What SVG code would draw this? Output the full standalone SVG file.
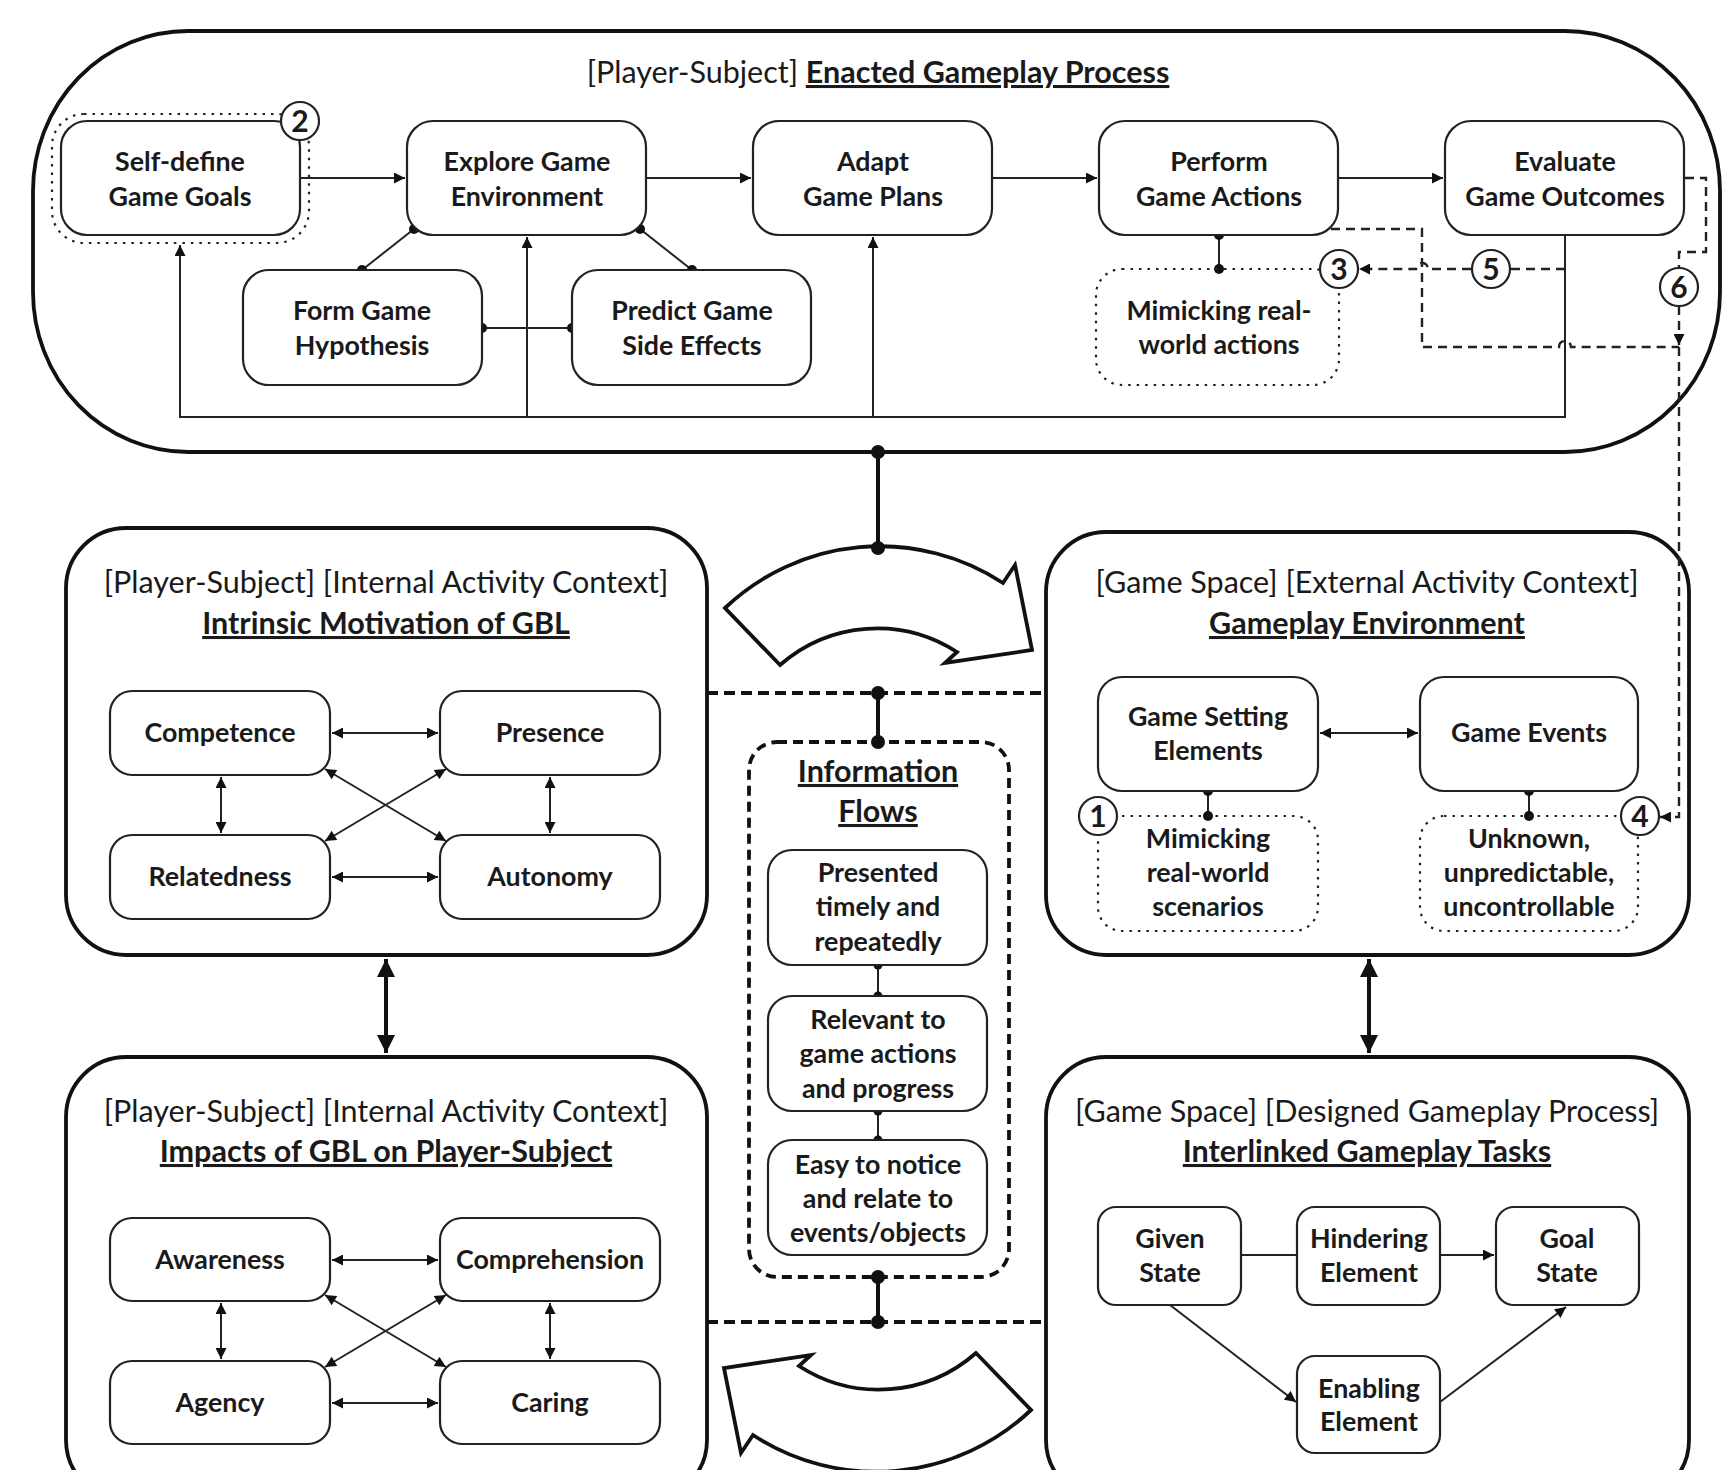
<svg xmlns="http://www.w3.org/2000/svg" width="1731" height="1470" viewBox="0 0 1731 1470">
<style>
text{font-family:Lato,"Liberation Sans",sans-serif;fill:#1a1a1a;text-anchor:middle}
.lb{font-size:26.8px;font-weight:700}
.tt{font-size:30.5px;font-weight:400}
.tb{font-size:30.5px;font-weight:700;text-decoration:underline}
.num{font-size:30px;font-weight:700}
.box{fill:#fff;stroke:#222;stroke-width:2.2}
.big{fill:#fff;stroke:#111;stroke-width:3.8}
.dot{fill:none;stroke:#222;stroke-width:2.2;stroke-dasharray:2.5 6}
.thin{fill:none;stroke:#222;stroke-width:2}
.dash{fill:none;stroke:#222;stroke-width:2.4;stroke-dasharray:9 6}
.tdash{fill:none;stroke:#111;stroke-width:4;stroke-dasharray:11 6}
.thick{fill:none;stroke:#111;stroke-width:4}
.circ{fill:#fff;stroke:#222;stroke-width:2.2}
.blk{fill:#111}
</style>
<defs>
<marker id="ah" viewBox="0 0 10 10" refX="10" refY="5" markerWidth="13" markerHeight="11" markerUnits="userSpaceOnUse" orient="auto-start-reverse"><path d="M0,0 L10,5 L0,10 Z" fill="#111"/></marker>
<marker id="ahB" viewBox="0 0 10 10" refX="10" refY="5" markerWidth="20" markerHeight="18" markerUnits="userSpaceOnUse" orient="auto-start-reverse"><path d="M0,0 L10,5 L0,10 Z" fill="#111"/></marker>
</defs>

<!-- Containers -->
<g id="enacted-process">
<rect class="big" x="33" y="31" width="1687" height="421" rx="155" ry="160"/>
<text x="878" y="83" class="tt">[Player-Subject] <tspan class="tb">Enacted Gameplay Process</tspan></text>
</g>

<g id="intrinsic-motivation">
<rect class="big" x="66" y="528" width="641" height="427" rx="60"/>
<text x="386" y="593" class="tt">[Player-Subject] [Internal Activity Context]</text>
<text x="386" y="634" class="tb">Intrinsic Motivation of GBL</text>
</g>

<g id="impacts">
<rect class="big" x="66" y="1057" width="641" height="443" rx="60"/>
<text x="386" y="1122" class="tt">[Player-Subject] [Internal Activity Context]</text>
<text x="386" y="1162" class="tb">Impacts of GBL on Player-Subject</text>
</g>

<g id="gameplay-environment">
<rect class="big" x="1046" y="532" width="643" height="423" rx="60"/>
<text x="1367" y="593" class="tt">[Game Space] [External Activity Context]</text>
<text x="1367" y="634" class="tb">Gameplay Environment</text>
</g>

<g id="interlinked-tasks">
<rect class="big" x="1046" y="1057" width="643" height="443" rx="60"/>
<text x="1367" y="1122" class="tt">[Game Space] [Designed Gameplay Process]</text>
<text x="1367" y="1162" class="tb">Interlinked Gameplay Tasks</text>
</g>

<g id="information-flows">
<rect x="749" y="742" width="260" height="535" rx="28" fill="#fff" stroke="#111" stroke-width="3.8" stroke-dasharray="10 6"/>
<text x="878" y="782" class="tb">Information</text>
<text x="878" y="822" class="tb">Flows</text>
</g>

<!-- Connectors -->
<g id="connectors">
<line class="thin" x1="300" y1="178" x2="405" y2="178" marker-end="url(#ah)"/>
<line class="thin" x1="646" y1="178" x2="751" y2="178" marker-end="url(#ah)"/>
<line class="thin" x1="992" y1="178" x2="1097" y2="178" marker-end="url(#ah)"/>
<line class="thin" x1="1338" y1="178" x2="1443" y2="178" marker-end="url(#ah)"/>
<polyline class="thin" points="1565,235 1565,417 180,417 180,245" marker-end="url(#ah)"/>
<line class="thin" x1="527" y1="417" x2="527" y2="237" marker-end="url(#ah)"/>
<line class="thin" x1="873" y1="417" x2="873" y2="237" marker-end="url(#ah)"/>
<line class="thin" x1="414" y1="229" x2="362" y2="270"/>
<line class="thin" x1="640" y1="229" x2="692" y2="270"/>
<line class="thin" x1="482" y1="328" x2="572" y2="328"/>
<circle class="blk" cx="414" cy="229" r="5"/><circle class="blk" cx="362" cy="270" r="5"/>
<circle class="blk" cx="640" cy="229" r="5"/><circle class="blk" cx="692" cy="270" r="5"/>
<circle class="blk" cx="482" cy="328" r="5"/><circle class="blk" cx="572" cy="328" r="5"/>
<line class="thin" x1="1219" y1="235" x2="1219" y2="269"/>
<circle class="blk" cx="1219" cy="235" r="5"/><circle class="blk" cx="1219" cy="269" r="5"/>
<path class="dash" d="M1565,269 L1511,269"/>
<path class="dash" d="M1471,269 L1428,269 A6,6 0 0 0 1416,269 L1359,269" marker-end="url(#ah)"/>
<path class="dash" d="M1331,229 L1422,229 L1422,347 L1559,347 A6,6 0 0 1 1571,347 L1679,347"/>
<path class="dash" d="M1685,178 L1706,178 L1706,252 L1679,252 L1679,268"/>
<path class="dash" d="M1679,306 L1679,345" marker-end="url(#ah)"/>
<path class="dash" d="M1679,347 L1679,817 L1660,817" marker-end="url(#ah)"/>
<line class="thick" x1="878" y1="452" x2="878" y2="548"/>
<circle class="blk" cx="878" cy="452" r="7"/>
<path d="M725,608 A225,225 0 0 1 1003,583 L1015,565 L1032,650 L945,663 L957,652 A147,147 0 0 0 780,665 Z" fill="#fff" stroke="#111" stroke-width="3.8"/>
<circle class="blk" cx="878" cy="548" r="7"/>
<path d="M725,608 A225,225 0 0 1 1003,583 L1015,565 L1032,650 L945,663 L957,652 A147,147 0 0 0 780,665 Z" transform="rotate(180 878 1009)" fill="#fff" stroke="#111" stroke-width="3.8"/>
<line class="tdash" x1="707" y1="693" x2="1046" y2="693"/>
<line class="thick" x1="878" y1="693" x2="878" y2="742"/>
<circle class="blk" cx="878" cy="693" r="7"/><circle class="blk" cx="878" cy="742" r="7"/>
<line class="tdash" x1="707" y1="1322" x2="1046" y2="1322"/>
<line class="thick" x1="878" y1="1277" x2="878" y2="1322"/>
<circle class="blk" cx="878" cy="1277" r="7"/><circle class="blk" cx="878" cy="1322" r="7"/>
<line class="thin" x1="878" y1="965" x2="878" y2="996"/>
<circle class="blk" cx="878" cy="965" r="4.5"/><circle class="blk" cx="878" cy="996" r="4.5"/>
<line class="thin" x1="878" y1="1111" x2="878" y2="1140"/>
<circle class="blk" cx="878" cy="1111" r="4.5"/><circle class="blk" cx="878" cy="1140" r="4.5"/>
<line class="thick" x1="386" y1="959" x2="386" y2="1053" marker-start="url(#ahB)" marker-end="url(#ahB)"/>
<line class="thick" x1="1369" y1="959" x2="1369" y2="1053" marker-start="url(#ahB)" marker-end="url(#ahB)"/>
<line class="thin" x1="332" y1="733" x2="438" y2="733" marker-start="url(#ah)" marker-end="url(#ah)"/>
<line class="thin" x1="332" y1="877" x2="438" y2="877" marker-start="url(#ah)" marker-end="url(#ah)"/>
<line class="thin" x1="221" y1="777" x2="221" y2="833" marker-start="url(#ah)" marker-end="url(#ah)"/>
<line class="thin" x1="550" y1="777" x2="550" y2="833" marker-start="url(#ah)" marker-end="url(#ah)"/>
<line class="thin" x1="325" y1="769" x2="446" y2="841" marker-start="url(#ah)" marker-end="url(#ah)"/>
<line class="thin" x1="446" y1="769" x2="325" y2="841" marker-start="url(#ah)" marker-end="url(#ah)"/>
<line class="thin" x1="332" y1="1260" x2="438" y2="1260" marker-start="url(#ah)" marker-end="url(#ah)"/>
<line class="thin" x1="332" y1="1403" x2="438" y2="1403" marker-start="url(#ah)" marker-end="url(#ah)"/>
<line class="thin" x1="221" y1="1303" x2="221" y2="1359" marker-start="url(#ah)" marker-end="url(#ah)"/>
<line class="thin" x1="550" y1="1303" x2="550" y2="1359" marker-start="url(#ah)" marker-end="url(#ah)"/>
<line class="thin" x1="325" y1="1295" x2="446" y2="1367" marker-start="url(#ah)" marker-end="url(#ah)"/>
<line class="thin" x1="446" y1="1295" x2="325" y2="1367" marker-start="url(#ah)" marker-end="url(#ah)"/>
<line class="thin" x1="1320" y1="733" x2="1418" y2="733" marker-start="url(#ah)" marker-end="url(#ah)"/>
<line class="thin" x1="1208" y1="791" x2="1208" y2="816"/>
<circle class="blk" cx="1208" cy="791" r="5"/><circle class="blk" cx="1208" cy="816" r="5"/>
<line class="thin" x1="1529" y1="791" x2="1529" y2="816"/>
<circle class="blk" cx="1529" cy="791" r="5"/><circle class="blk" cx="1529" cy="816" r="5"/>
<line class="thin" x1="1241" y1="1255" x2="1297" y2="1255"/>
<line class="thin" x1="1440" y1="1255" x2="1494" y2="1255" marker-end="url(#ah)"/>
<line class="thin" x1="1170" y1="1305" x2="1296" y2="1402" marker-end="url(#ah)"/>
<line class="thin" x1="1440" y1="1402" x2="1566" y2="1307" marker-end="url(#ah)"/>
</g>

<g id="self-define">
<rect class="dot" x="52" y="114" width="257" height="129" rx="32"/>
<rect class="box" x="61" y="121" width="239" height="114" rx="26"/>
<text x="180" y="171" class="lb">Self-define</text>
<text x="180" y="206" class="lb">Game Goals</text>
</g>
<g id="explore">
<rect class="box" x="407" y="121" width="239" height="114" rx="26"/>
<text x="527" y="171" class="lb">Explore Game</text>
<text x="527" y="206" class="lb">Environment</text>
</g>
<g id="adapt">
<rect class="box" x="753" y="121" width="239" height="114" rx="26"/>
<text x="873" y="171" class="lb">Adapt</text>
<text x="873" y="206" class="lb">Game Plans</text>
</g>
<g id="perform">
<rect class="box" x="1099" y="121" width="239" height="114" rx="26"/>
<text x="1219" y="171" class="lb">Perform</text>
<text x="1219" y="206" class="lb">Game Actions</text>
</g>
<g id="evaluate">
<rect class="box" x="1445" y="121" width="239" height="114" rx="26"/>
<text x="1565" y="171" class="lb">Evaluate</text>
<text x="1565" y="206" class="lb">Game Outcomes</text>
</g>
<g id="form-hypothesis">
<rect class="box" x="243" y="270" width="239" height="115" rx="26"/>
<text x="362" y="320" class="lb">Form Game</text>
<text x="362" y="355" class="lb">Hypothesis</text>
</g>
<g id="predict-side-effects">
<rect class="box" x="572" y="270" width="239" height="115" rx="26"/>
<text x="692" y="320" class="lb">Predict Game</text>
<text x="692" y="355" class="lb">Side Effects</text>
</g>
<g id="mimicking-actions">
<rect class="dot" x="1096" y="269" width="243" height="116" rx="26"/>
<text x="1219" y="320" class="lb">Mimicking real-</text>
<text x="1219" y="354" class="lb">world actions</text>
</g>

<g id="marker-2"><circle class="circ" cx="300" cy="121" r="19"/><text x="300" y="132" class="num">2</text></g>
<g id="marker-3"><circle class="circ" cx="1339" cy="269" r="19"/><text x="1339" y="280" class="num">3</text></g>
<g id="marker-5"><circle class="circ" cx="1491" cy="269" r="19"/><text x="1491" y="280" class="num">5</text></g>
<g id="marker-6"><circle class="circ" cx="1679" cy="287" r="19"/><text x="1679" y="298" class="num">6</text></g>

<g id="competence"><rect class="box" x="110" y="691" width="220" height="84" rx="22"/><text x="220" y="742" class="lb">Competence</text></g>
<g id="presence"><rect class="box" x="440" y="691" width="220" height="84" rx="22"/><text x="550" y="742" class="lb">Presence</text></g>
<g id="relatedness"><rect class="box" x="110" y="835" width="220" height="84" rx="22"/><text x="220" y="886" class="lb">Relatedness</text></g>
<g id="autonomy"><rect class="box" x="440" y="835" width="220" height="84" rx="22"/><text x="550" y="886" class="lb">Autonomy</text></g>

<g id="awareness"><rect class="box" x="110" y="1218" width="220" height="83" rx="22"/><text x="220" y="1269" class="lb">Awareness</text></g>
<g id="comprehension"><rect class="box" x="440" y="1218" width="220" height="83" rx="22"/><text x="550" y="1269" class="lb">Comprehension</text></g>
<g id="agency"><rect class="box" x="110" y="1361" width="220" height="83" rx="22"/><text x="220" y="1412" class="lb">Agency</text></g>
<g id="caring"><rect class="box" x="440" y="1361" width="220" height="83" rx="22"/><text x="550" y="1412" class="lb">Caring</text></g>

<g id="presented"><rect class="box" x="768" y="850" width="219" height="115" rx="24"/>
<text x="878" y="882" class="lb">Presented</text><text x="878" y="916" class="lb">timely and</text><text x="878" y="951" class="lb">repeatedly</text></g>
<g id="relevant"><rect class="box" x="768" y="996" width="219" height="115" rx="24"/>
<text x="878" y="1029" class="lb">Relevant to</text><text x="878" y="1063" class="lb">game actions</text><text x="878" y="1098" class="lb">and progress</text></g>
<g id="easy"><rect class="box" x="768" y="1140" width="219" height="115" rx="24"/>
<text x="878" y="1174" class="lb">Easy to notice</text><text x="878" y="1208" class="lb">and relate to</text><text x="878" y="1242" class="lb">events/objects</text></g>

<g id="game-setting"><rect class="box" x="1098" y="677" width="220" height="114" rx="24"/>
<text x="1208" y="726" class="lb">Game Setting</text><text x="1208" y="760" class="lb">Elements</text></g>
<g id="game-events"><rect class="box" x="1420" y="677" width="218" height="114" rx="24"/>
<text x="1529" y="742" class="lb">Game Events</text></g>
<g id="mimicking-scenarios"><rect class="dot" x="1098" y="816" width="220" height="115" rx="24"/>
<text x="1208" y="848" class="lb">Mimicking</text><text x="1208" y="882" class="lb">real-world</text><text x="1208" y="916" class="lb">scenarios</text></g>
<g id="unknown"><rect class="dot" x="1420" y="816" width="218" height="115" rx="24"/>
<text x="1529" y="848" class="lb">Unknown,</text><text x="1529" y="882" class="lb">unpredictable,</text><text x="1529" y="916" class="lb">uncontrollable</text></g>
<g id="marker-1"><circle class="circ" cx="1098" cy="816" r="19"/><text x="1098" y="827" class="num">1</text></g>
<g id="marker-4"><circle class="circ" cx="1640" cy="816" r="19"/><text x="1640" y="827" class="num">4</text></g>

<g id="given-state"><rect class="box" x="1098" y="1207" width="143" height="98" rx="18"/>
<text x="1170" y="1248" class="lb">Given</text><text x="1170" y="1282" class="lb">State</text></g>
<g id="hindering"><rect class="box" x="1297" y="1207" width="143" height="98" rx="18"/>
<text x="1369" y="1248" class="lb">Hindering</text><text x="1369" y="1282" class="lb">Element</text></g>
<g id="goal-state"><rect class="box" x="1496" y="1207" width="143" height="98" rx="18"/>
<text x="1567" y="1248" class="lb">Goal</text><text x="1567" y="1282" class="lb">State</text></g>
<g id="enabling"><rect class="box" x="1297" y="1356" width="143" height="97" rx="18"/>
<text x="1369" y="1398" class="lb">Enabling</text><text x="1369" y="1431" class="lb">Element</text></g>
</svg>
